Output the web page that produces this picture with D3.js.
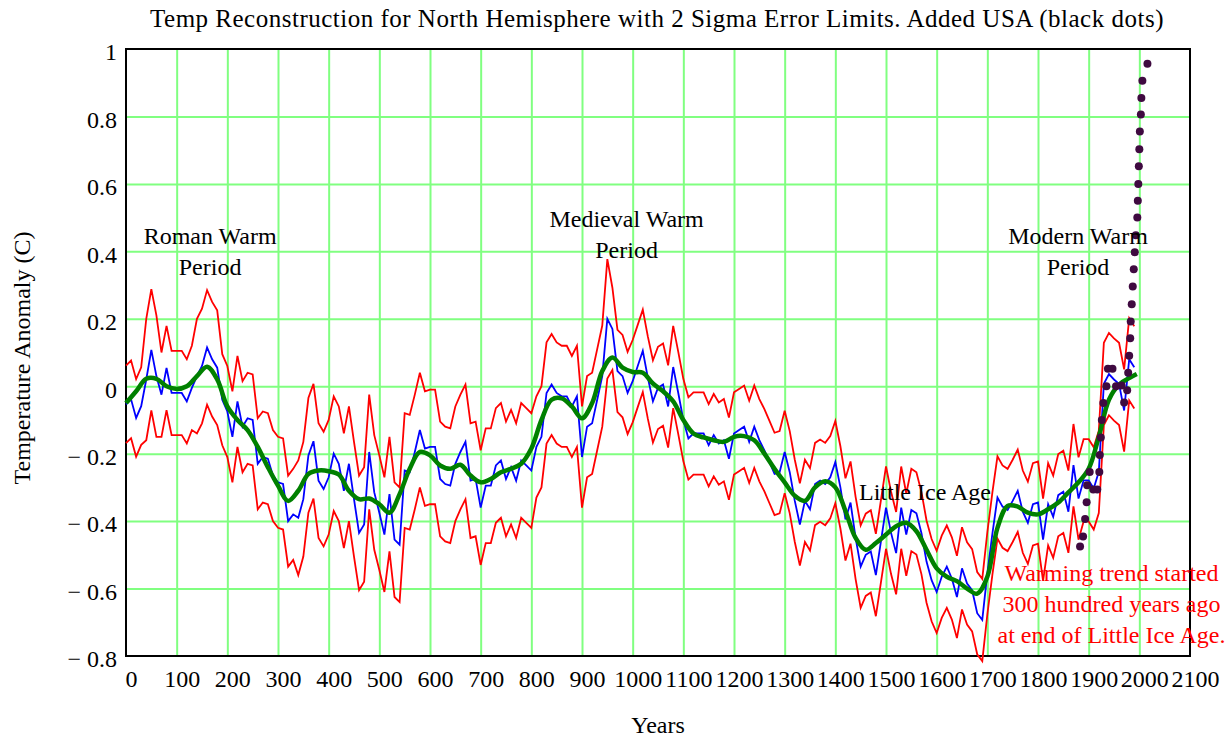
<!DOCTYPE html>
<html>
<head>
<meta charset="utf-8">
<script src="https://cdn.jsdelivr.net/npm/d3@7/dist/d3.min.js"></script>
<style>
  body { margin: 0; background: #fff; }
  #chart { width: 1229px; height: 740px; }
  text { font-family: "Liberation Serif", "Times New Roman", serif; }
</style>
</head>
<body>
<div id="chart"></div>
<script>
// Reconstruction sampled every 10 years starting at year 0
const startYear = 0;
const stepYears = 10;

const recon = [
  -0.054, -0.039, -0.094, -0.059, 0.02, 0.108, 0.03, -0.025, 0.054, -0.02,
  -0.02, -0.02, -0.045, -0.005, 0.03, 0.06, 0.115, 0.08, 0.055, -0.04,
  -0.075, -0.15, -0.045, -0.12, -0.095, -0.10, -0.23, -0.21, -0.215, -0.265,
  -0.285, -0.29, -0.40, -0.38, -0.39, -0.335, -0.205, -0.163, -0.28, -0.305,
  -0.27, -0.20, -0.23, -0.31, -0.23, -0.335, -0.435, -0.41, -0.195, -0.315,
  -0.375, -0.44, -0.32, -0.455, -0.47, -0.25, -0.255, -0.195, -0.13, -0.185,
  -0.18, -0.18, -0.275, -0.29, -0.295, -0.23, -0.195, -0.165, -0.28, -0.275,
  -0.36, -0.295, -0.295, -0.235, -0.22, -0.275, -0.24, -0.28, -0.22, -0.235,
  -0.25, -0.18, -0.15, -0.02, 0.005, -0.02, -0.03, -0.03, -0.06, -0.03,
  -0.21, -0.12, -0.11, -0.04, 0.03, 0.20, 0.17, 0.045, 0.03, -0.02,
  0.015, 0.06, 0.105, 0.025, -0.045, -0.005, 0.005, -0.06, 0.057, -0.02,
  -0.10, -0.155, -0.14, -0.14, -0.14, -0.175, -0.145, -0.17, -0.16, -0.215,
  -0.14, -0.13, -0.12, -0.165, -0.12, -0.16, -0.19, -0.225, -0.26, -0.255,
  -0.195, -0.255, -0.34, -0.41, -0.34, -0.365, -0.29, -0.28, -0.29, -0.27,
  -0.225, -0.30, -0.395, -0.345, -0.45, -0.535, -0.50, -0.49, -0.56, -0.46,
  -0.36, -0.435, -0.495, -0.36, -0.44, -0.367, -0.377, -0.436, -0.52, -0.575,
  -0.61, -0.565, -0.535, -0.57, -0.625, -0.54, -0.585, -0.605, -0.673, -0.693,
  -0.555, -0.437, -0.33, -0.357, -0.367, -0.34, -0.31, -0.372, -0.405, -0.35,
  -0.345, -0.455, -0.35, -0.387, -0.323, -0.313, -0.372, -0.234, -0.333, -0.279,
  -0.279, -0.303, -0.254, 0.007, 0.036, 0.02, 0.007, -0.072, 0.08, 0.056
];

// Half width of the 2 sigma band for each sample
const twoSigma = [
  0.115, 0.115, 0.115, 0.115, 0.18, 0.18, 0.18, 0.125, 0.125, 0.125,
  0.125, 0.125, 0.125, 0.125, 0.17, 0.17, 0.17, 0.17, 0.17, 0.135,
  0.135, 0.135, 0.135, 0.135, 0.135, 0.135, 0.135, 0.135, 0.135, 0.135,
  0.135, 0.135, 0.135, 0.135, 0.17, 0.17, 0.17, 0.17, 0.17, 0.17,
  0.17, 0.17, 0.17, 0.17, 0.17, 0.17, 0.17, 0.17, 0.17, 0.17,
  0.17, 0.17, 0.17, 0.17, 0.17, 0.17, 0.17, 0.17, 0.17, 0.17,
  0.17, 0.17, 0.17, 0.17, 0.17, 0.17, 0.17, 0.17, 0.17, 0.17,
  0.17, 0.17, 0.17, 0.17, 0.17, 0.17, 0.17, 0.17, 0.17, 0.17,
  0.17, 0.15, 0.15, 0.15, 0.15, 0.15, 0.15, 0.15, 0.15, 0.15,
  0.15, 0.15, 0.15, 0.15, 0.15, 0.177, 0.122, 0.122, 0.122, 0.122,
  0.122, 0.122, 0.122, 0.122, 0.122, 0.122, 0.122, 0.122, 0.122, 0.122,
  0.122, 0.122, 0.122, 0.122, 0.122, 0.122, 0.122, 0.122, 0.122, 0.122,
  0.122, 0.122, 0.122, 0.122, 0.122, 0.122, 0.122, 0.122, 0.122, 0.122,
  0.122, 0.122, 0.122, 0.122, 0.122, 0.122, 0.122, 0.122, 0.122, 0.122,
  0.122, 0.122, 0.122, 0.122, 0.122, 0.122, 0.122, 0.122, 0.122, 0.122,
  0.122, 0.122, 0.122, 0.122, 0.122, 0.122, 0.122, 0.122, 0.122, 0.122,
  0.122, 0.122, 0.122, 0.122, 0.122, 0.122, 0.122, 0.122, 0.122, 0.122,
  0.122, 0.122, 0.122, 0.122, 0.122, 0.122, 0.122, 0.122, 0.122, 0.122,
  0.122, 0.122, 0.122, 0.122, 0.122, 0.122, 0.122, 0.122, 0.122, 0.122,
  0.122, 0.122, 0.122, 0.122, 0.122, 0.122, 0.122, 0.122, 0.122, 0.122
];

// Smoothed reconstruction (green)
const smoothYears = [
  0, 20, 40, 60, 80, 100, 120, 140, 160, 180, 200, 220, 240, 260, 280, 300, 320, 340, 360, 380,
  400, 420, 440, 460, 480, 500, 520, 540, 560, 580, 600, 620, 640, 660, 680, 700, 720, 740, 760, 780,
  800, 820, 840, 860, 880, 900, 920, 940, 960, 980, 1000, 1020, 1040, 1060, 1080, 1100, 1120, 1140, 1160, 1180,
  1200, 1220, 1240, 1260, 1280, 1300, 1320, 1340, 1360, 1380, 1400, 1420, 1440, 1460, 1480, 1500, 1520, 1540, 1560, 1580,
  1600, 1620, 1640, 1660, 1680, 1700, 1720, 1740, 1760, 1780, 1800, 1820, 1840, 1860, 1880, 1900, 1920, 1940, 1960, 1980, 1995
];
const smoothValues = [
  -0.05, -0.015, 0.022, 0.022, 0.0, -0.008, 0.0, 0.03, 0.058, 0.02, -0.06, -0.10, -0.13, -0.18, -0.24, -0.295, -0.34, -0.31, -0.26, -0.25,
  -0.252, -0.262, -0.31, -0.335, -0.333, -0.35, -0.375, -0.32, -0.245, -0.195, -0.205, -0.235, -0.245, -0.233, -0.265, -0.285, -0.275, -0.255, -0.245, -0.23,
  -0.185, -0.10, -0.04, -0.036, -0.06, -0.095, -0.05, 0.045, 0.085, 0.055, 0.042, 0.04, 0.008, -0.015, -0.045, -0.10, -0.14, -0.152, -0.16, -0.165,
  -0.15, -0.148, -0.16, -0.20, -0.245, -0.285, -0.325, -0.34, -0.30, -0.282, -0.30, -0.37, -0.45, -0.485, -0.465, -0.44, -0.415, -0.405, -0.43, -0.485,
  -0.54, -0.565, -0.578, -0.60, -0.615, -0.565, -0.42, -0.355, -0.357, -0.375, -0.38, -0.365, -0.345, -0.315, -0.285, -0.245, -0.15, -0.04, 0.005, 0.024, 0.036
];

// USA record (black dots)
const usaYears = [
  1883, 1889, 1893, 1896, 1897, 1902, 1909, 1917, 1921, 1922, 1924, 1926, 1929, 1935, 1938, 1947, 1954, 1965, 1970, 1976,
  1978, 1980, 1982, 1983, 1985, 1987, 1989, 1991, 1993, 1996, 1997, 1998, 1999, 2000, 2001, 2003, 2004, 2006, 2016
];
const usaValues = [
  -0.475, -0.446, -0.394, -0.344, -0.294, -0.254, -0.306, -0.306, -0.254, -0.204, -0.152, -0.10, -0.05, 0.0, 0.052, 0.052, 0.0, 0.002, -0.048, -0.012,
  0.04, 0.09, 0.142, 0.192, 0.243, 0.296, 0.347, 0.397, 0.448, 0.50, 0.55, 0.60, 0.652, 0.703, 0.755, 0.806, 0.855, 0.906, 0.956
];

const xTicks = [0, 100, 200, 300, 400, 500, 600, 700, 800, 900, 1000, 1100, 1200, 1300, 1400, 1500, 1600, 1700, 1800, 1900, 2000, 2100];
const yTicks = [-0.8, -0.6, -0.4, -0.2, 0, 0.2, 0.4, 0.6, 0.8, 1];

const titleText = 'Temp Reconstruction for North Hemisphere with 2 Sigma Error Limits. Added USA (black dots)';

// Annotations anchored in data units (year, anomaly)
const notes = [
  { lines: ['Roman Warm', 'Period'], year: 166, value: 0.445, color: '#000' },
  { lines: ['Medieval Warm', 'Period'], year: 988, value: 0.496, color: '#000' },
  { lines: ['Little Ice Age'], year: 1577, value: -0.315, color: '#000' },
  { lines: ['Modern Warm', 'Period'], year: 1879, value: 0.445, color: '#000' },
  { lines: ['Warming trend started', '300 hundred years ago', 'at end of Little Ice Age.'], year: 1945, value: -0.555, color: '#ff0000' }
];

class ReconstructionChart {
    constructor(containerId) {
        this.containerId = containerId;
        this.width = 1229;
        this.height = 740;
        this.margin = { top: 49, right: 39, bottom: 84, left: 126 };
        this.fontSize = 24;
    }

    init() {
        this.svg = d3.select(`#${this.containerId}`)
            .append('svg')
            .attr('width', this.width)
            .attr('height', this.height);

        this.x = d3.scaleLinear()
            .domain([0, 2100])
            .range([this.margin.left, this.width - this.margin.right]);
        this.y = d3.scaleLinear()
            .domain([-0.8, 1])
            .range([this.height - this.margin.bottom, this.margin.top]);
    }

    drawGrid() {
        const x = this.x, y = this.y;
        const top = y.range()[1], bottom = y.range()[0];
        const left = x.range()[0], right = x.range()[1];

        // Vertical grid lines (skip the frame edges)
        this.svg.append('g')
            .attr('transform', `translate(0,${bottom})`)
            .call(d3.axisBottom(x).tickValues(xTicks.slice(1, -1)).tickSize(-(bottom - top)).tickFormat(''))
            .call(g => g.select('.domain').remove())
            .call(g => g.selectAll('line').attr('stroke', '#80ff80').attr('stroke-width', 2));

        // Horizontal grid lines
        this.svg.append('g')
            .attr('transform', `translate(${left},0)`)
            .call(d3.axisLeft(y).tickValues(yTicks.slice(1, -1)).tickSize(-(right - left)).tickFormat(''))
            .call(g => g.select('.domain').remove())
            .call(g => g.selectAll('line').attr('stroke', '#80ff80').attr('stroke-width', 2));

        // Frame
        this.svg.append('rect')
            .attr('x', left)
            .attr('y', top)
            .attr('width', right - left)
            .attr('height', bottom - top)
            .attr('fill', 'none')
            .attr('stroke', '#000')
            .attr('stroke-width', 2);
    }

    drawAxes() {
        const x = this.x, y = this.y;
        const bottom = y.range()[0];
        const left = x.range()[0];
        const fs = this.fontSize;
        const fmt = v => v < 0 ? '\u2212 ' + d3.format('.1f')(-v) : (v === 0 || v === 1 ? String(v) : d3.format('.1f')(v));

        const xAxis = this.svg.append('g')
            .attr('transform', `translate(5,${bottom})`)
            .call(d3.axisBottom(x).tickValues(xTicks).tickSize(0).tickPadding(14).tickFormat(d3.format('d')));
        xAxis.select('.domain').remove();
        xAxis.selectAll('text')
            .attr('font-size', fs)
            .attr('fill', '#000')
            .attr('font-family', '"Liberation Serif", serif');

        const yAxis = this.svg.append('g')
            .attr('transform', `translate(${left - 9},0)`)
            .call(d3.axisLeft(y).tickValues(yTicks).tickSize(0).tickPadding(0).tickFormat(fmt));
        yAxis.select('.domain').remove();
        yAxis.selectAll('text')
            .attr('font-size', fs)
            .attr('fill', '#000')
            .attr('dy', '0.45em')
            .attr('font-family', '"Liberation Serif", serif');

        // Axis titles
        this.svg.append('text')
            .attr('x', 658)
            .attr('y', 733)
            .attr('text-anchor', 'middle')
            .attr('font-size', fs)
            .text('Years');

        this.svg.append('text')
            .attr('transform', `translate(30,358) rotate(-90)`)
            .attr('text-anchor', 'middle')
            .attr('font-size', fs)
            .text('Temperature Anomaly (C)');

        this.svg.append('text')
            .attr('x', 657)
            .attr('y', 27)
            .attr('text-anchor', 'middle')
            .attr('font-size', 25)
            .attr('letter-spacing', 0.5)
            .text(titleText);
    }

    drawSeries() {
        const x = this.x, y = this.y;
        const yearOf = i => startYear + i * stepYears;

        const band = recon.map((v, i) => ({ year: yearOf(i), value: v, err: twoSigma[i] }));

        const line = d3.line().x(d => x(d.year)).y(d => y(d.value));

        // Upper and lower 2 sigma limits
        this.svg.append('path')
            .datum(band.map(d => ({ year: d.year, value: d.value + d.err })))
            .attr('d', line)
            .attr('fill', 'none')
            .attr('stroke', '#ff0000')
            .attr('stroke-width', 1.8);

        this.svg.append('path')
            .datum(band.map(d => ({ year: d.year, value: d.value - d.err })))
            .attr('d', line)
            .attr('fill', 'none')
            .attr('stroke', '#ff0000')
            .attr('stroke-width', 1.8);

        // Reconstruction
        this.svg.append('path')
            .datum(band)
            .attr('d', line)
            .attr('fill', 'none')
            .attr('stroke', '#0000ff')
            .attr('stroke-width', 1.8);

        // Smoothed curve
        const smooth = smoothYears.map((yr, i) => ({ year: yr, value: smoothValues[i] }));
        this.svg.append('path')
            .datum(smooth)
            .attr('d', line.curve(d3.curveCatmullRom.alpha(0.5)))
            .attr('fill', 'none')
            .attr('stroke', '#008000')
            .attr('stroke-width', 4.5)
            .attr('stroke-linejoin', 'round');

        // USA dots
        const usa = usaYears.map((yr, i) => ({ year: yr, value: usaValues[i] }));
        this.svg.append('g')
            .selectAll('circle')
            .data(usa)
            .enter()
            .append('circle')
            .attr('cx', d => x(d.year))
            .attr('cy', d => y(d.value))
            .attr('r', 4)
            .attr('fill', '#3f0a40');
    }

    drawNotes() {
        const x = this.x, y = this.y;
        notes.forEach(n => {
            const t = this.svg.append('text')
                .attr('x', x(n.year))
                .attr('y', y(n.value))
                .attr('text-anchor', 'middle')
                .attr('font-size', this.fontSize)
                .attr('fill', n.color);
            n.lines.forEach((s, i) => {
                t.append('tspan')
                    .attr('x', x(n.year))
                    .attr('dy', i === 0 ? '0.33em' : '1.29em')
                    .text(s);
            });
        });
    }

    render() {
        this.init();
        this.drawGrid();
        this.drawAxes();
        this.drawSeries();
        this.drawNotes();
    }
}

const chart = new ReconstructionChart('chart');
chart.render();
</script>
</body>
</html>
